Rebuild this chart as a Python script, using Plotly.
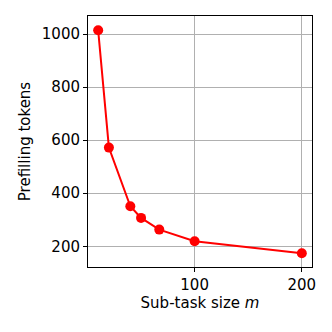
import plotly.graph_objects as go

m_values = [10, 20, 40, 50, 67, 100, 200]
prefill_tokens = [1014, 572, 351, 307, 263, 219, 174]
x_ticks = [100, 200]
y_ticks = [200, 400, 600, 800, 1000]

fig = go.Figure(go.Scatter(
    x=m_values, y=prefill_tokens, mode="lines+markers",
    line=dict(color="red", width=2),
    marker=dict(color="red", size=10),
))

font = dict(family="DejaVu Sans", size=15, color="black")
axis_common = dict(
    showline=True, linecolor="black", linewidth=1, mirror=True,
    ticks="outside", ticklen=4, tickcolor="black", tickwidth=1,
    showgrid=True, gridcolor="#b0b0b0", gridwidth=1, zeroline=False,
    tickfont=font, automargin=False,
)
# page body has an 8px default margin; compensate in figure margins
fig.update_layout(
    width=324, height=324,
    margin=dict(l=80, r=20, t=8, b=65),
    plot_bgcolor="white", paper_bgcolor="white",
    showlegend=False,
    font=font,
    xaxis=dict(axis_common, range=[0.5, 209.5], tickvals=x_ticks,
               title=dict(text="Sub-task size <i>m</i>", font=font, standoff=4)),
    yaxis=dict(axis_common, range=[122, 1068], tickvals=y_ticks,
               title=dict(text="Prefilling tokens", font=font, standoff=7)),
)
fig.write_html("out.html")
